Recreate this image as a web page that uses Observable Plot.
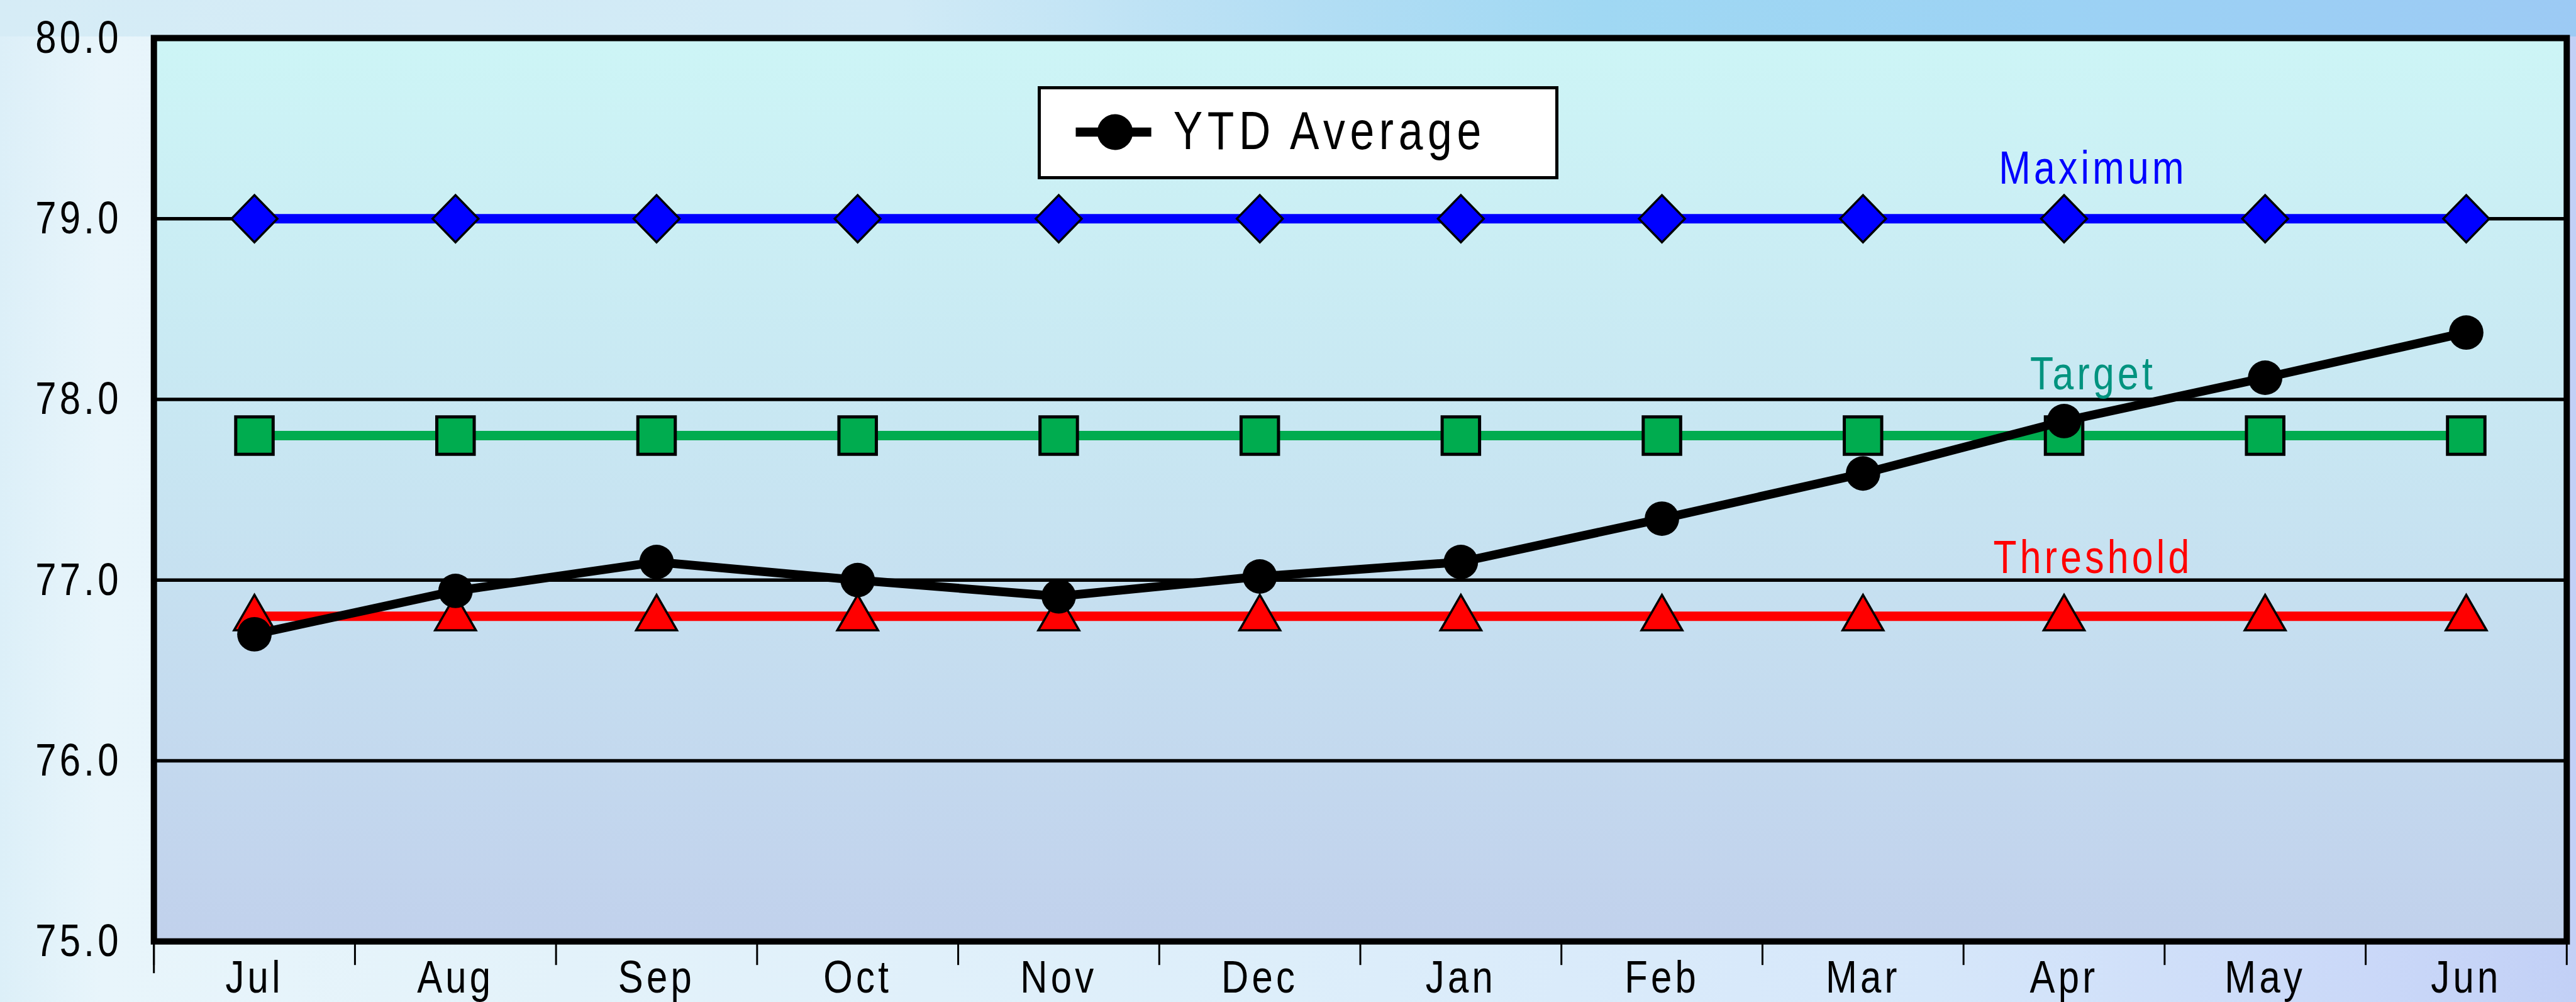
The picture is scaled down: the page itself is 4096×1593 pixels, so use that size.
<!DOCTYPE html>
<html>
<head>
<meta charset="utf-8">
<script src="https://cdn.jsdelivr.net/npm/d3@7"></script>
<script src="https://cdn.jsdelivr.net/npm/@observablehq/plot@0.6"></script>
<style>
  html, body { margin: 0; padding: 0; width: 4096px; height: 1593px; overflow: hidden; }
  body {
    background-color: #E2F1FA;
    background-image:
      linear-gradient(to right, #D6ECF6 0%, #D0EAF6 35%, #B4DEF4 50%, #A0D8F3 62%, #9CD2F4 80%, #9CCAF4 100%),
      linear-gradient(to right, #DCEFF8 0%, #E8F5FB 4%, #E3F2FA 22%, #DDEEFA 50%, #D6E7FA 75%, #CAD8F8 92%, #C2D0F6 100%);
    background-size: 100% 58px, 100% 100%;
    background-repeat: no-repeat;
  }
  #wrap { position: relative; width: 4096px; height: 1593px; }
  #chart svg text { letter-spacing: 6.4px; }
  #legend {
    position: absolute; left: 1650px; top: 137px; width: 828px; height: 148px;
    box-sizing: border-box; border: 5px solid #000; background: #fff;
  }
  #legend svg { display: block; }
  #legend text { font-family: "Liberation Sans", Arial, sans-serif; font-size: 85px; letter-spacing: 9.3px; }
</style>
</head>
<body>
<div id="wrap">
  <div id="chart"></div>
  <div id="legend">
    <svg width="818" height="138">
      <line x1="55.5" x2="175.6" y1="68" y2="68" stroke="#000" stroke-width="14.7"></line>
      <circle cx="118" cy="68" r="28.4" fill="#000"></circle>
      <text transform="translate(210.7,94.9) scale(0.82,1)" fill="#000">YTD Average</text>
    </svg>
  </div>
</div>
<script>
// ---- data ----
const months = ["Jul", "Aug", "Sep", "Oct", "Nov", "Dec", "Jan", "Feb", "Mar", "Apr", "May", "Jun"];
const ytdAverage = [76.70, 76.94, 77.10, 77.00, 76.91, 77.02, 77.10, 77.34, 77.59, 77.88, 78.12, 78.37];
const maximum = [79.0, 79.0, 79.0, 79.0, 79.0, 79.0, 79.0, 79.0, 79.0, 79.0, 79.0, 79.0];
const target = [77.8, 77.8, 77.8, 77.8, 77.8, 77.8, 77.8, 77.8, 77.8, 77.8, 77.8, 77.8];
const threshold = [76.8, 76.8, 76.8, 76.8, 76.8, 76.8, 76.8, 76.8, 76.8, 76.8, 76.8, 76.8];
const yTickValues = [75, 76, 77, 78, 79, 80];
const gridValues = [76, 77, 78, 79];
const seriesLabels = {maximum: "Maximum", target: "Target", threshold: "Threshold"};
const labelMonth = "Apr";

// ---- table built from the arrays ----
const rows = months.map((month, i) => ({
  month, pos: i + 0.5,
  ytd: ytdAverage[i], max: maximum[i], target: target[i], threshold: threshold[i]
}));
const labelRow = [rows[months.indexOf(labelMonth)]];

// ---- custom marker shapes (size = pi r^2) ----
const rOf = size => Math.sqrt(size / Math.PI);
const diamondSym = {draw(ctx, size) { const r = rOf(size); ctx.moveTo(0, -r * 1.03); ctx.lineTo(r, 0); ctx.lineTo(0, r * 1.03); ctx.lineTo(-r, 0); ctx.closePath(); }};
const squareSym = {draw(ctx, size) { const r = rOf(size); ctx.rect(-r, -r, 2 * r, 2 * r); }};
const triangleSym = {draw(ctx, size) { const r = rOf(size); ctx.moveTo(0, -r); ctx.lineTo(0.955 * r, 0.66 * r); ctx.lineTo(-0.955 * r, 0.66 * r); ctx.closePath(); }};

const FONT = '"Liberation Sans", Arial, sans-serif';
const NARROW = 0.82; // horizontal squeeze to mimic a narrow face

const chart = Plot.plot({
  width: 4096,
  height: 1593,
  marginLeft: 244.2,
  marginRight: 15.2,
  marginTop: 60,
  marginBottom: 96.8,
  style: {background: "transparent", fontFamily: FONT, fontSize: "73px", color: "#000", overflow: "visible"},
  x: {type: "linear", domain: [0, months.length]},
  y: {type: "linear", domain: [75, 80]},
  marks: [
    Plot.frame({fill: "url(#plotBg)", stroke: "none"}),
    Plot.gridY(gridValues, {stroke: "#000", strokeOpacity: 1, strokeWidth: 5.6}),
    // Maximum
    Plot.line(rows, {x: "pos", y: "max", stroke: "#0000FF", strokeWidth: 15}),
    Plot.dot(rows, {x: "pos", y: "max", symbol: diamondSym, r: 36.5, fill: "#0000FF", stroke: "#000", strokeWidth: 3.5}),
    // Target
    Plot.line(rows, {x: "pos", y: "target", stroke: "#00AC4F", strokeWidth: 15}),
    Plot.dot(rows, {x: "pos", y: "target", symbol: squareSym, r: 29.75, fill: "#00AC4F", stroke: "#000", strokeWidth: 5}),
    // Threshold
    Plot.line(rows, {x: "pos", y: "threshold", stroke: "#FF0000", strokeWidth: 15}),
    Plot.dot(rows, {x: "pos", y: "threshold", symbol: triangleSym, r: 34, fill: "#FF0000", stroke: "#000", strokeWidth: 3.5}),
    // YTD Average
    Plot.line(rows, {x: "pos", y: "ytd", stroke: "#000", strokeWidth: 14}),
    Plot.dot(rows, {x: "pos", y: "ytd", r: 27.4, fill: "#000", stroke: "none"}),
    // series labels
    Plot.text(labelRow, {x: "pos", y: "max", text: () => seriesLabels.maximum, fill: "#0000FF", fontSize: 74, lineAnchor: "bottom", dx: 46, dy: -55.3}),
    Plot.text(labelRow, {x: "pos", y: "target", text: () => seriesLabels.target, fill: "#00937F", fontSize: 74, lineAnchor: "bottom", dx: 46, dy: -73.9}),
    Plot.text(labelRow, {x: "pos", y: "threshold", text: () => seriesLabels.threshold, fill: "#FF0000", fontSize: 74, lineAnchor: "bottom", dx: 46, dy: -68.5}),
    // frame
    Plot.frame({stroke: "#000", strokeWidth: 10}),
    // axes
    Plot.axisY({ticks: yTickValues, tickFormat: d3.format(".1f"), tickSize: 0, tickPadding: 51, fontSize: 73, label: null}),
    Plot.axisX({ticks: d3.range(months.length + 1), tickFormat: () => "", tickSize: 38, strokeWidth: 3, label: null}),
    Plot.axisX({ticks: [0], tickFormat: () => "", tickSize: 51, strokeWidth: 3, label: null}),
    Plot.axisX({ticks: rows.map(d => d.pos), tickFormat: d => months[Math.floor(d)], tickSize: 0, tickPadding: 29, fontSize: 73, label: null})
  ]
});

// plot-area gradient
const defs = d3.select(chart).insert("defs", ":first-child");
const grad = defs.append("linearGradient").attr("id", "plotBg").attr("x1", 0).attr("y1", 0).attr("x2", 0).attr("y2", 1);
grad.append("stop").attr("offset", "0%").attr("stop-color", "#CDF5F6");
grad.append("stop").attr("offset", "45%").attr("stop-color", "#C8E6F2");
grad.append("stop").attr("offset", "100%").attr("stop-color", "#C1D1EC");

// squeeze every text horizontally around its own anchor point
d3.select(chart).selectAll("text").each(function() {
  const t = this.getAttribute("transform") || "";
  this.setAttribute("transform", `${t} scale(${NARROW},1)`.trim());
});

document.getElementById("chart").appendChild(chart);
</script>
</body>
</html>
